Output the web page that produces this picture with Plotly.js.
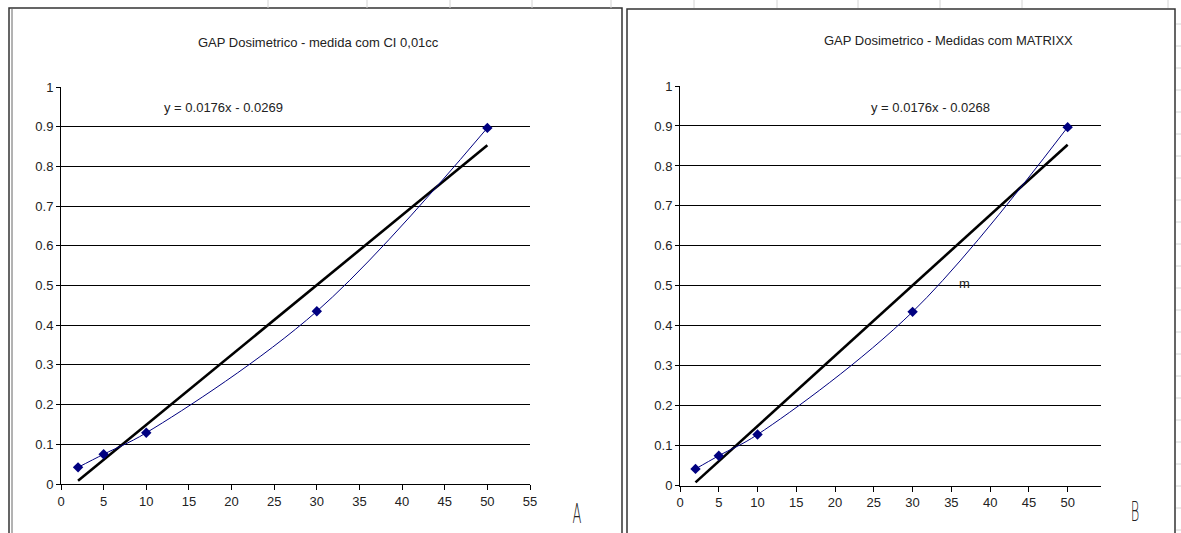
<!DOCTYPE html>
<html>
<head>
<meta charset="utf-8">
<script src="https://cdn.plot.ly/plotly-3.0.1.min.js"></script>
<style>
html,body{margin:0;padding:0;background:#fff;}
#chart{width:1181px;height:533px;}
</style>
</head>
<body>
<div id="chart"></div>
<script>
// ---- data ----
const xValues = [2, 5, 10, 30, 50];
const seriesA = [0.042, 0.075, 0.129, 0.435, 0.897];
const seriesB = [0.042, 0.075, 0.128, 0.435, 0.897];
const trendA = [0.0176, -0.0269];   // slope, intercept
const trendB = [0.0176, -0.0268];
const titleA = 'GAP Dosimetrico - medida com CI 0,01cc';
const titleB = 'GAP Dosimetrico - Medidas com MATRIXX';
const eqA = 'y = 0.0176x - 0.0269';
const eqB = 'y = 0.0176x - 0.0268';
const yTicks = [0, 0.1, 0.2, 0.3, 0.4, 0.5, 0.6, 0.7, 0.8, 0.9, 1];
const xTicksA = [0, 5, 10, 15, 20, 25, 30, 35, 40, 45, 50, 55];
const xTicksB = [0, 5, 10, 15, 20, 25, 30, 35, 40, 45, 50];

const W = 1181, H = 533;
const px = v => v / W;
const py = v => 1 - v / H;

const xEnds = [xValues[0], xValues[xValues.length - 1]];
const lineY = (t) => xEnds.map(x => t[0] * x + t[1]);

const navy = '#000080';
const font = {family: 'Liberation Sans, Arial, sans-serif', size: 13, color: '#222'};

function dataTrace(ys, xa, ya) {
  return {x: xValues, y: ys, xaxis: xa, yaxis: ya, type: 'scatter', mode: 'lines+markers',
    line: {color: navy, width: 1, shape: 'spline', smoothing: 1},
    marker: {symbol: 'diamond', size: 8, color: navy}, hoverinfo: 'skip'};
}
function trendTrace(t, xa, ya) {
  return {x: xEnds, y: lineY(t), xaxis: xa, yaxis: ya, type: 'scatter', mode: 'lines',
    line: {color: '#000', width: 2.6}, hoverinfo: 'skip'};
}

const traces = [
  trendTrace(trendA, 'x', 'y'),
  dataTrace(seriesA, 'x', 'y'),
  trendTrace(trendB, 'x2', 'y2'),
  dataTrace(seriesB, 'x2', 'y2')
];

function xAxis(domain, range, ticks) {
  return {domain: domain, range: range, tickvals: ticks, ticktext: ticks.map(String),
    showgrid: false, zeroline: false, showline: true, linecolor: '#000', linewidth: 1,
    ticks: 'outside', ticklen: 5, tickcolor: '#000', tickfont: font, fixedrange: true};
}
function yAxis(domain, anchor) {
  return {domain: domain, range: [0, 1], anchor: anchor, tickvals: yTicks, ticktext: yTicks.map(String),
    showgrid: true, gridcolor: '#000', gridwidth: 1, zeroline: false, showline: true,
    linecolor: '#000', linewidth: 1, ticks: 'outside', ticklen: 4, tickcolor: '#000',
    tickfont: font, fixedrange: true};
}

const shapes = [];
// chart frames
shapes.push({type: 'rect', xref: 'paper', yref: 'paper', x0: px(9), x1: px(622), y0: py(545), y1: py(8), line: {color: '#333', width: 1.5}});
shapes.push({type: 'line', xref: 'paper', yref: 'paper', x0: px(12), x1: px(12), y0: py(545), y1: py(8), line: {color: '#666', width: 1}});
shapes.push({type: 'rect', xref: 'paper', yref: 'paper', x0: px(627), x1: px(1175), y0: py(545), y1: py(9), line: {color: '#333', width: 1.5}});
// faint spreadsheet cell lines
[268, 367, 450, 532, 611, 694, 777, 858, 940, 1022, 1168].forEach(v => {
  shapes.push({type: 'line', xref: 'paper', yref: 'paper', x0: px(v), x1: px(v), y0: py(0), y1: py(8), line: {color: '#d4d4d4', width: 1}});
});
for (let r = 24; r < 533; r += 22) {
  shapes.push({type: 'line', xref: 'paper', yref: 'paper', x0: px(1176), x1: px(1181), y0: py(r), y1: py(r), line: {color: '#d4d4d4', width: 1}});
}

const titleFont = {family: 'Liberation Sans, Arial, sans-serif', size: 13, color: '#222'};
const letterFont = {family: 'DejaVu Sans, sans-serif', size: 26, color: '#222'};
function note(text, x, y, f) {
  return {text: text, x: px(x), y: py(y), xref: 'paper', yref: 'paper', xanchor: 'center', yanchor: 'middle', showarrow: false, font: f};
}
const annotations = [
  note(titleA, 318, 42, titleFont),
  note(titleB, 948, 41, titleFont),
  note(eqA, 223, 108, titleFont),
  note(eqB, 930, 108, titleFont),
  note('m', 964, 283, titleFont),
  note('A', 577, 514, letterFont),
  note('B', 1135, 512, letterFont)
];

const layout = {
  width: W, height: H,
  margin: {l: 0, r: 0, t: 0, b: 0},
  paper_bgcolor: '#fff', plot_bgcolor: 'rgba(0,0,0,0)',
  showlegend: false,
  xaxis: Object.assign(xAxis([px(61), px(530)], [0, 55], xTicksA), {anchor: 'y'}),
  yaxis: yAxis([1 - 484 / H, 1 - 87 / H], 'x'),
  xaxis2: Object.assign(xAxis([px(680), px(1101)], [0, 54.3], xTicksB), {anchor: 'y2'}),
  yaxis2: yAxis([1 - 485.7 / H, 1 - 86 / H], 'x2'),
  shapes: shapes,
  annotations: annotations
};

Plotly.newPlot('chart', traces, layout, {staticPlot: true, displayModeBar: false}).then(() => {
  // narrow, thin panel letters like the reference
  document.querySelectorAll('#chart .annotation-text').forEach(t => {
    const s = t.textContent;
    if (s === 'A' || s === 'B') {
      t.style.transformBox = 'fill-box';
      t.style.transformOrigin = 'center';
      t.style.transform = 'scaleX(0.5)';
      t.style.fontWeight = '300';
    }
  });
});
</script>
</body>
</html>
